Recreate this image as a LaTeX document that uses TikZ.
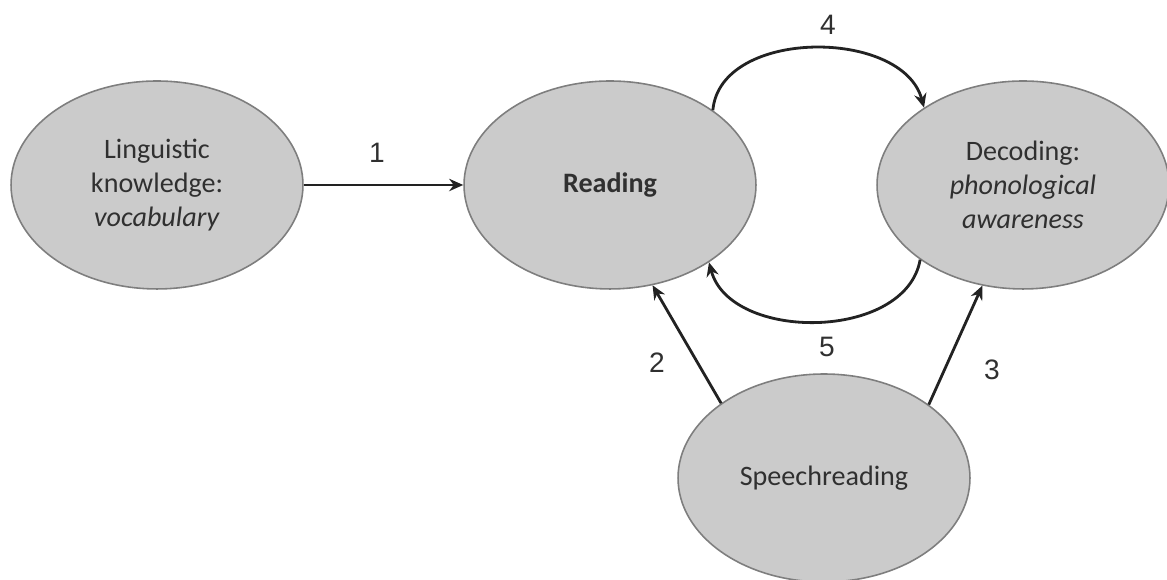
\documentclass[tikz,border=0pt]{standalone}
\usepackage{fontspec}
\setmainfont{Carlito}
\newfontfamily\numfont{Liberation Sans}
\usetikzlibrary{arrows.meta,shapes.geometric}
\definecolor{bubble}{HTML}{CBCBCB}
\definecolor{rim}{HTML}{7E7E7E}
\definecolor{ink}{HTML}{303030}
\definecolor{wire}{HTML}{222222}
\tikzset{
  concept/.style={ellipse, fill=bubble, draw=rim, line width=0.9pt,
    minimum width=5.84cm, minimum height=4.16cm, inner sep=0pt,
    text=ink, align=center, font=\fontsize{16}{19.4}\selectfont},
  link/.style={draw=wire, line width=1.6pt, -{Stealth[length=8pt,width=7pt]}},
  num/.style={text=ink, font=\numfont\fontsize{16}{19}\selectfont}
}
\begin{document}
\begin{tikzpicture}[x=0.02cm,y=0.02cm]
\useasboundingbox (0,0) rectangle (1167,580);

% concepts
\node[concept] (ling)   at (157,395)  {Linguistic\\knowledge:\\\textit{vocabulary}};
\node[concept] (read)   at (610,395)  {\textbf{Reading}};
\node[concept] (deco)   at (1023,395) {Decoding:\\\textit{phonological}\\\textit{awareness}};
\node[concept] (speech) at (824,102)  {Speechreading};

% links between concepts
\draw[link] (ling.east) -- (read.west);
\draw[link] (read.36) to[out=85,in=105] (deco.142);
\draw[link] (deco.216) to[out=-100,in=-75] (read.322);
\draw[link] (speech.144) -- (read.293);
\draw[link] (speech.35) -- (deco.248);

% path numbers
\node[num] (n1) at (377,427) {1};
\node[num] (n2) at (657,217) {2};
\node[num] (n3) at (992,210) {3};
\node[num] (n4) at (828,555) {4};
\node[num] (n5) at (827,233) {5};
\end{tikzpicture}
\end{document}
